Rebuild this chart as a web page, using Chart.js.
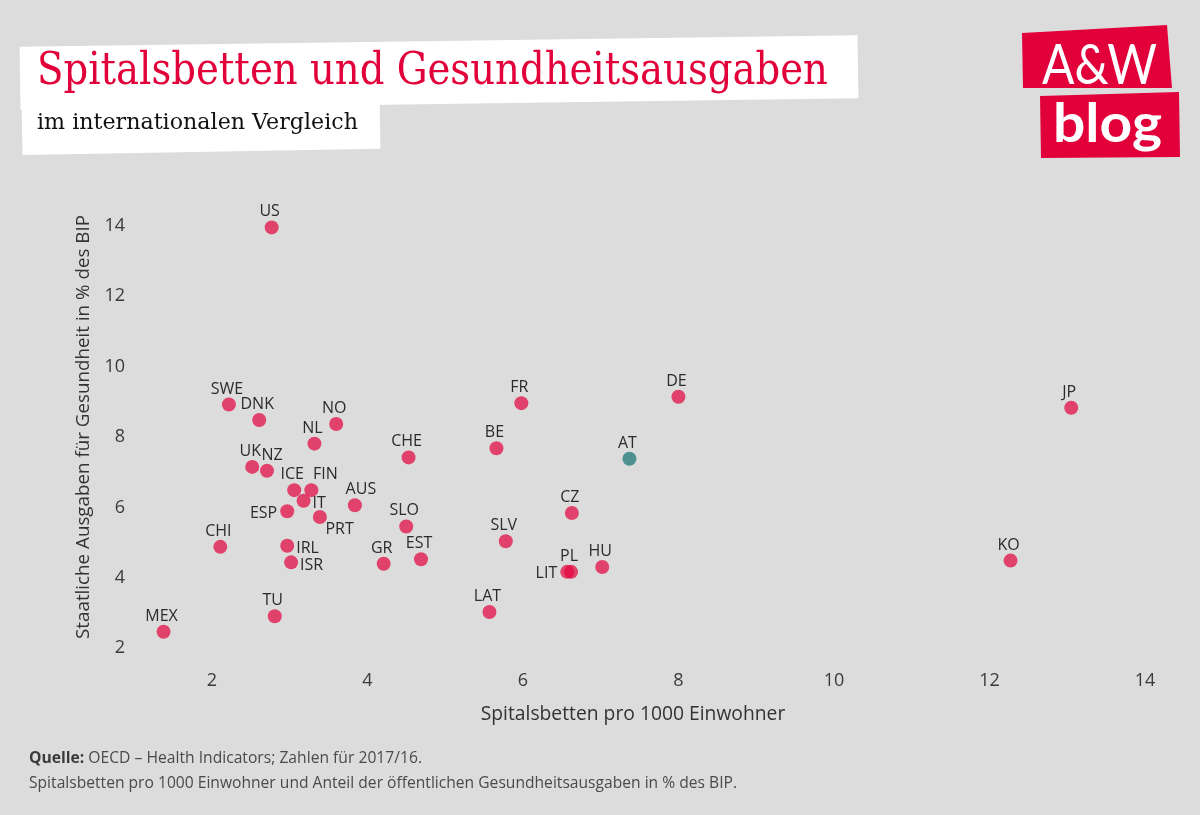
<!DOCTYPE html>
<html lang="de"><head><meta charset="utf-8">
<script src="https://cdn.jsdelivr.net/npm/chart.js@4.4.1/dist/chart.umd.min.js"></script>
<style>
html,body{margin:0;padding:0;}
body{width:1200px;height:815px;background:#dcdcdc;position:relative;overflow:hidden;font-family:"Open Sans",sans-serif;}
#chart{position:absolute;left:0;top:0;}
.box{position:absolute;background:#fff;}
.red{position:absolute;left:0;top:0;width:1200px;height:815px;background:#e2003b;}
.t{position:absolute;white-space:nowrap;line-height:1;transform-origin:0 0;}
</style></head><body>
<canvas id="chart" width="1200" height="815"></canvas>
<div class="box" style="left:20px;top:41px;width:838px;height:63px;transform:rotate(-0.8deg)"></div>
<div class="box" style="left:22px;top:100px;width:358px;height:52px;transform:rotate(-1deg)"></div>
<div class="t" data-w="791" style="left:37px;top:46.8px;font-family:'DejaVu Serif';font-size:44px;color:#e2003b">Spitalsbetten und Gesundheitsausgaben</div>
<div class="t" data-w="321" style="left:37px;top:111.4px;font-family:'DejaVu Serif';font-size:22px;color:#111">im internationalen Vergleich</div>

<div class="red" style="clip-path:polygon(1022px 33px,1167px 25px,1172px 88px,1023px 88px)"></div>
<div class="red" style="clip-path:polygon(1040px 96px,1179px 92px,1180px 157px,1041px 158px)"></div>
<div class="t" data-w="115" style="left:1042px;top:35.3px;font-family:Lato;font-size:56px;font-weight:400;color:#fff">A&amp;W</div>
<div class="t" data-w="109" style="left:1053px;top:94.7px;font-family:Lato;font-size:53px;font-weight:700;color:#fff">blog</div>

<div class="t" data-w="393" style="left:29px;top:749.5px;font-size:15.5px;color:#4a4a4a"><b style="color:#3a3a3a">Quelle:</b> OECD – Health Indicators; Zahlen für 2017/16.</div>
<div class="t" data-w="708" style="left:29px;top:775.2px;font-size:15.5px;color:#4a4a4a">Spitalsbetten pro 1000 Einwohner und Anteil der öffentlichen Gesundheitsausgaben in % des BIP.</div>

<script>
const countries = ['US','SWE','DNK','NO','NL','CHE','BE','FR','DE','JP','AT','UK','NZ','ICE','FIN','IT','ESP','PRT','AUS','CHI','IRL','ISR','GR','SLO','EST','SLV','CZ','LIT','PL','HU','LAT','TU','MEX','KO'];
const hospitalBedsPer1000 = [2.77,2.22,2.61,3.60,3.32,4.53,5.66,5.98,8.00,13.05,7.37,2.52,2.71,3.06,3.28,3.18,2.97,3.39,3.84,2.11,2.97,3.02,4.21,4.50,4.69,5.78,6.63,6.57,6.62,7.02,5.57,2.81,1.38,12.27];
const publicHealthSpendingPctGDP = [13.95,8.92,8.48,8.37,7.81,7.42,7.68,8.96,9.14,8.83,7.38,7.15,7.04,6.49,6.49,6.19,5.89,5.73,6.06,4.88,4.91,4.44,4.40,5.46,4.53,5.04,5.84,4.17,4.17,4.31,3.03,2.91,2.47,4.49];
const xTickValues = [2,4,6,8,10,12,14];
const yTickValues = [2,4,6,8,10,12,14];
const xTitle = 'Spitalsbetten pro 1000 Einwohner';
const yTitle = 'Staatliche Ausgaben für Gesundheit in % des BIP';
const highlight = 'AT';

// label placement (style only)
const labelPlacement = {
  NZ:{pos:'top',dx:5}, FIN:{pos:'top',dx:14}, AUS:{pos:'top',dx:6},
  IT:{pos:'right'}, IRL:{pos:'right'}, ISR:{pos:'right'},
  ESP:{pos:'left'}, LIT:{pos:'left'}, PRT:{pos:'bottomright'}
};

const pink = 'rgba(226,0,59,0.70)';
const teal = 'rgba(30,120,120,0.75)';

const pointLabels = {
  id:'pointLabels',
  afterDatasetsDraw(chart){
    const ctx = chart.ctx;
    const meta = chart.getDatasetMeta(0);
    ctx.save();
    ctx.font = '16px "Open Sans"';
    ctx.fillStyle = '#2b2b2b';
    ctx.textBaseline = 'alphabetic';
    meta.data.forEach((pt,i)=>{
      const name = countries[i];
      const p = labelPlacement[name] || {pos:'top'};
      let x = pt.x, y = pt.y;
      if (p.pos === 'top'){ ctx.textAlign='center'; x += (p.dx!==undefined?p.dx:-2); y -= 11; }
      else if (p.pos === 'right'){ ctx.textAlign='left'; x += 9; y += 7.5; }
      else if (p.pos === 'left'){ ctx.textAlign='right'; x -= 10; y += 6.5; }
      else if (p.pos === 'bottomright'){ ctx.textAlign='left'; x += 5.6; y += 17; }
      ctx.fillText(name, x, y);
    });
    ctx.restore();
  }
};

const axisTitles = {
  id:'axisTitles',
  afterDraw(chart){
    const ctx = chart.ctx;
    ctx.save();
    ctx.fillStyle = '#333';
    ctx.textAlign = 'center';
    ctx.textBaseline = 'middle';
    ctx.font = '19.3px "Open Sans"';
    ctx.fillText(xTitle, 633, 715);
    ctx.font = '18.8px "Open Sans"';
    ctx.translate(83.5, 427);
    ctx.rotate(-Math.PI/2);
    ctx.fillText(yTitle, 0, 0);
    ctx.restore();
  }
};

new Chart(document.getElementById('chart'), {
  type:'scatter',
  data:{
    datasets:[{
      data: countries.map((c,i)=>({x:hospitalBedsPer1000[i], y:publicHealthSpendingPctGDP[i]})),
      backgroundColor: ctx => countries[ctx.dataIndex]===highlight ? teal : pink,
      borderWidth:0,
      pointRadius:7,
      pointHoverRadius:7
    }]
  },
  options:{
    responsive:false, animation:false, devicePixelRatio:1,
    layout:{padding:{left:84,right:16,top:190.4,bottom:112.6}},
    plugins:{legend:{display:false}, tooltip:{enabled:false}},
    events:[],
    scales:{
      x:{type:'linear', min:1.0, max:14.5,
        grid:{display:false, drawTicks:false}, border:{display:false},
        ticks:{padding:8, color:'#3a3a3a', font:{family:'Open Sans', size:18}},
        afterBuildTicks: s => { s.ticks = xTickValues.map(v=>({value:v})); },
        afterFit: s => { s.height = 40; }
      },
      y:{type:'linear', min:1.6, max:15,
        grid:{display:false, drawTicks:false}, border:{display:false},
        ticks:{padding:9, color:'#3a3a3a', font:{family:'Open Sans', size:18}},
        afterBuildTicks: s => { s.ticks = yTickValues.map(v=>({value:v})); },
        afterFit: s => { s.width = 50; }
      }
    }
  },
  plugins:[pointLabels, axisTitles]
});

function fitTexts(){
  document.querySelectorAll('[data-w]').forEach(el=>{
    el.style.transform = 'none';
    const w = el.getBoundingClientRect().width;
    if (w>0) el.style.transform = 'scaleX(' + (parseFloat(el.dataset.w)/w) + ')';
  });
}
fitTexts();
if (document.fonts && document.fonts.ready) document.fonts.ready.then(fitTexts);
</script>
</body></html>
